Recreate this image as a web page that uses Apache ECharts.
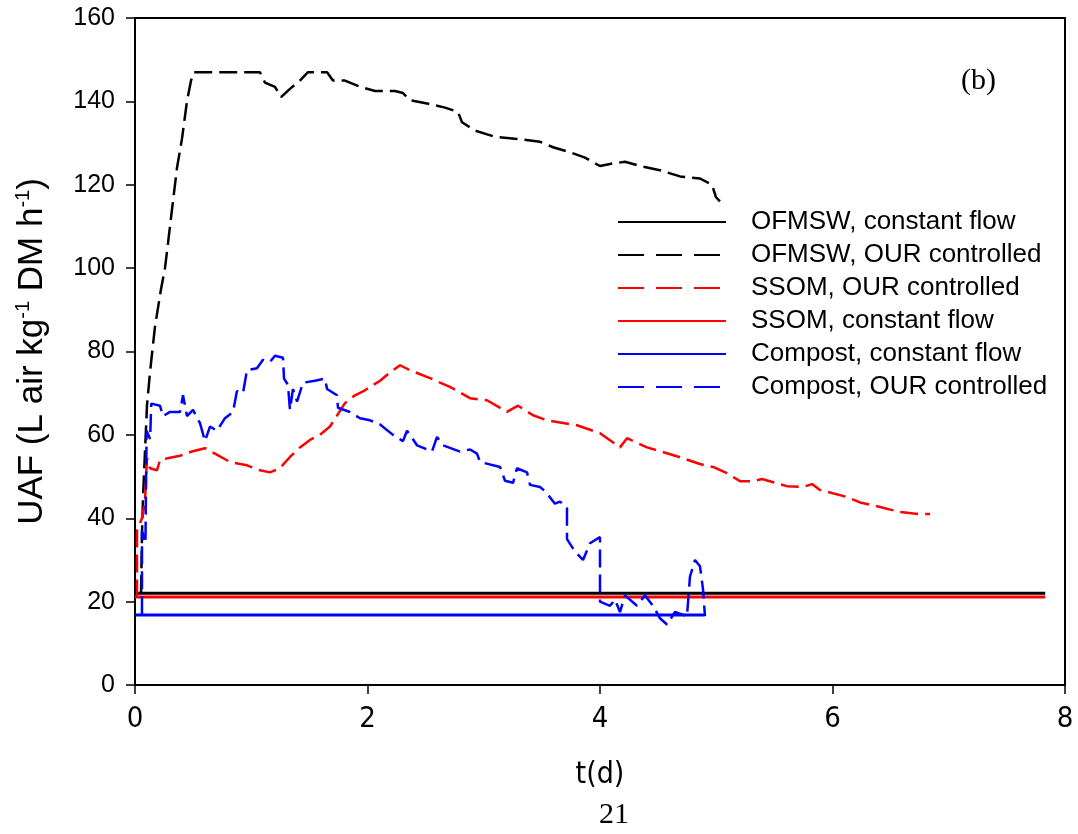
<!DOCTYPE html>
<html>
<head>
<meta charset="utf-8">
<script src="https://cdn.jsdelivr.net/npm/echarts@6/dist/echarts.min.js"></script>
<style>
html,body{margin:0;padding:0;background:#fff;}
#c{width:1078px;height:834px;}
</style>
</head>
<body>
<div id="c"></div>
<script>
// ---- data (t in days, UAF values) ----
const xTicks = [0, 2, 4, 6, 8];
const yTicks = [0, 20, 40, 60, 80, 100, 120, 140, 160];
const legendNames = ["OFMSW, constant flow", "OFMSW, OUR controlled", "SSOM, OUR controlled", "SSOM, constant flow", "Compost, constant flow", "Compost, OUR controlled"];

const ofmswConstT = [0, 7.83];
const ofmswConstV = [22, 22];
const ssomConstT = [0, 7.83];
const ssomConstV = [21.1, 21.1];
const compostConstT = [0, 4.9];
const compostConstV = [16.8, 16.8];

const ofmswOurT = [0.052,0.06,0.069,0.103,0.129,0.172,0.224,0.258,0.284,0.318,0.361,0.404,0.447,0.482,0.508,1.075,1.118,1.204,1.256,1.333,1.419,1.488,1.652,1.703,1.806,1.935,2.065,2.237,2.305,2.366,2.512,2.667,2.778,2.813,2.925,3.097,3.286,3.484,3.596,3.742,3.871,4.0,4.086,4.215,4.344,4.516,4.688,4.86,4.963,4.998,5.032];
const ofmswOurV = [22,36,45,67,75,86,95,100,106,114,124,131,140,145,147,147,144.5,143.5,141,143,145,147,147,145,145,143.5,142.5,142.5,142,140.3,139.5,138.5,137.5,135,133,131.5,131,130.3,129,127.8,126.5,124.5,125,125.5,124.5,123.5,122,121.5,120,117,116];

const ssomOurT = [0.017,0.017,0.06,0.086,0.103,0.129,0.189,0.215,0.301,0.387,0.49,0.602,0.688,0.817,0.963,1.075,1.161,1.247,1.333,1.419,1.505,1.591,1.677,1.806,1.892,1.978,2.108,2.194,2.28,2.366,2.538,2.71,2.882,3.028,3.2,3.295,3.424,3.544,3.802,4.0,4.172,4.232,4.404,4.576,4.714,4.86,4.972,5.092,5.204,5.316,5.394,5.609,5.746,5.824,5.892,6.125,6.237,6.409,6.581,6.753,6.839];
const ssomOurV = [21,37,40,44,54.5,52,51.5,54,54.5,55,56,56.8,55.5,53.5,52.7,51.5,51,52,54.7,57,58.8,60,62,67.6,69.5,70.7,73,75,76.7,75.5,73.6,71.5,68.8,68.3,65.5,67,64.7,63.5,62.3,60.4,57,59.2,57,55.6,54.4,53,52.3,50.8,48.9,48.9,49.4,47.7,47.5,48.2,46.8,45.1,43.8,42.7,41.5,41,41];

const compostOurT = [0.06,0.06,0.09,0.095,0.1,0.13,0.14,0.215,0.241,0.301,0.387,0.413,0.447,0.499,0.559,0.602,0.645,0.705,0.774,0.843,0.877,0.929,0.963,1.049,1.101,1.161,1.204,1.273,1.282,1.316,1.333,1.359,1.394,1.445,1.548,1.634,1.652,1.738,1.746,1.849,1.935,2.022,2.108,2.219,2.305,2.34,2.426,2.555,2.598,2.649,2.796,2.882,2.942,2.968,3.14,3.183,3.252,3.286,3.372,3.398,3.484,3.527,3.613,3.656,3.716,3.716,3.785,3.854,3.914,4.0,4.0,4.086,4.129,4.172,4.215,4.318,4.387,4.456,4.516,4.576,4.645,4.748,4.774,4.817,4.86,4.886,4.903];
const compostOurV = [17,37,34,49,61,59,67.5,67,64.5,65.5,65.5,69.5,64.5,66,62.8,58.5,62,61,64,65.5,70.5,70,75.5,76,78,77.5,79,78.5,73.5,72,66,71,68,72.5,73,73.5,71,69.5,66.5,65.5,64,63.5,62.5,60,58.5,61,57.5,56,59.5,57.5,56,56.5,55.5,53.5,52.3,49,48.5,52,51,48,47.5,46.5,43.5,44,42.5,35,32,30,34,35.5,20,19,20.5,17.5,21.5,19,21.5,19,16,14.5,17.5,16.5,26,30,28.5,23,16.5];

function pairs(t, v) { return t.map((x, i) => [x, v[i]]); }

const FONT = "'Liberation Sans', Arial, sans-serif";
const NARROW = "'Liberation Sans Narrow', 'Arial Narrow', 'DejaVu Sans Condensed', sans-serif";
const SERIF = "'Liberation Serif', 'Times New Roman', serif";
const DASH = [18, 7];
const LEG_DASH = [26, 12];

const chart = echarts.init(document.getElementById('c'), null, {renderer: 'canvas'});

const seriesDefs = [
  {name: legendNames[0], data: pairs(ofmswConstT, ofmswConstV), color: '#000000', type: 'solid', w: 3},
  {name: legendNames[1], data: pairs(ofmswOurT, ofmswOurV), color: '#000000', type: DASH, w: 2.5},
  {name: legendNames[2], data: pairs(ssomOurT, ssomOurV), color: '#ff0000', type: DASH, w: 2.5},
  {name: legendNames[3], data: pairs(ssomConstT, ssomConstV), color: '#ff0000', type: 'solid', w: 3},
  {name: legendNames[4], data: pairs(compostConstT, compostConstV), color: '#0000ff', type: 'solid', w: 3},
  {name: legendNames[5], data: pairs(compostOurT, compostOurV), color: '#0000ff', type: DASH, w: 2.5}
];

const option = {
  backgroundColor: '#ffffff',
  animation: false,
  grid: {left: 135, top: 18, width: 930, height: 667, show: true, borderColor: '#000', borderWidth: 2, backgroundColor: 'transparent'},
  xAxis: {
    type: 'value', min: xTicks[0], max: xTicks[xTicks.length - 1], interval: 2,
    axisLine: {lineStyle: {color: '#000', width: 2}},
    axisTick: {show: true, length: 9, lineStyle: {color: '#000', width: 1.5}},
    splitLine: {show: false},
    axisLabel: {color: '#000', fontFamily: NARROW, fontSize: 29, margin: 20},
    name: 't(d)', nameLocation: 'middle', nameGap: 75,
    nameTextStyle: {color: '#000', fontFamily: NARROW, fontSize: 30}
  },
  yAxis: {
    type: 'value', min: yTicks[0], max: yTicks[yTicks.length - 1], interval: 20,
    axisLine: {show: true, lineStyle: {color: '#000', width: 2}},
    axisTick: {show: true, length: 9, lineStyle: {color: '#000', width: 1.5}},
    splitLine: {show: false},
    axisLabel: {color: '#000', fontFamily: FONT, fontSize: 25, margin: 20},
    name: 'UAF (L air kg{sup|-1} DM h{sup|-1})', nameLocation: 'middle', nameRotate: 90, nameGap: 84,
    nameTextStyle: {color: '#000', fontFamily: FONT, fontSize: 35, lineHeight: 38,
      rich: {sup: {fontSize: 20, fontFamily: FONT, color: '#000', verticalAlign: 'top', lineHeight: 20}}}
  },
  legend: {
    show: true,
    orient: 'vertical', left: 612, top: 204,
    itemWidth: 108, itemHeight: 14, itemGap: 7,
    textStyle: {color: '#000', fontFamily: FONT, fontSize: 26, lineHeight: 26, padding: [0, 0, 0, 20]},
    data: seriesDefs.map(s => ({name: s.name,
      itemStyle: {color: 'rgba(0,0,0,0)', borderWidth: 0, opacity: 0},
      lineStyle: {color: s.color, width: 2, type: s.type === 'solid' ? 'solid' : LEG_DASH}}))
  },
  graphic: [
    {type: 'text', left: 961, top: 66, style: {text: '(b)', font: '30px ' + SERIF, fill: '#000'}},
    {type: 'text', left: 599, top: 800, style: {text: '21', font: '30px ' + SERIF, fill: '#000'}}
  ],
  series: seriesDefs.map(s => ({
    name: s.name, type: 'line', data: s.data, symbol: 'none', showSymbol: false,
    lineStyle: {color: s.color, width: s.w, type: s.type},
    itemStyle: {color: s.color},
    emphasis: {disabled: true}
  }))
};
chart.setOption(option);
</script>
</body>
</html>
